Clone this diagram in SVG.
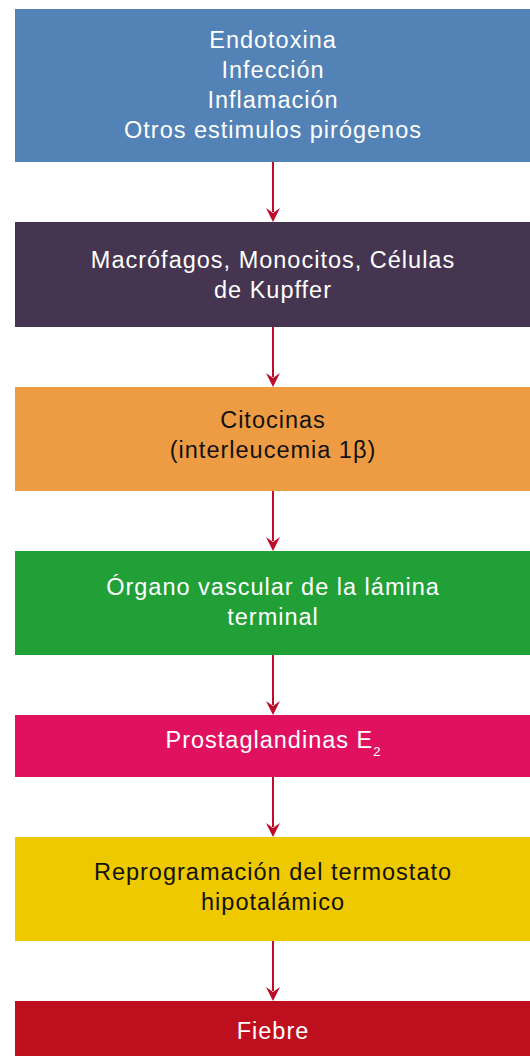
<svg xmlns="http://www.w3.org/2000/svg" width="530" height="1056" viewBox="0 0 530 1056">
<style>
text{font-family:"Liberation Sans",Arial,Helvetica,sans-serif;font-size:23.5px;letter-spacing:1px;text-anchor:middle}
.w{fill:#ffffff}
.k{fill:#111111}
.c{stroke:#be0d2b;stroke-width:2;fill:none}
.h{fill:#be0d2b}
</style>
<defs>
<path id="ah" d="M-7,-14 L0,-9 L7,-14 L0,0 Z"/>
</defs>
<rect width="530" height="1056" fill="#ffffff"/>
<g id="connectors">
<line class="c" x1="273" y1="162" x2="273" y2="212"/><use href="#ah" class="h" x="273" y="222"/>
<line class="c" x1="273" y1="327" x2="273" y2="377"/><use href="#ah" class="h" x="273" y="387"/>
<line class="c" x1="273" y1="491" x2="273" y2="541"/><use href="#ah" class="h" x="273" y="551"/>
<line class="c" x1="273" y1="655" x2="273" y2="705"/><use href="#ah" class="h" x="273" y="715"/>
<line class="c" x1="273" y1="777" x2="273" y2="827"/><use href="#ah" class="h" x="273" y="837"/>
<line class="c" x1="273" y1="941" x2="273" y2="991"/><use href="#ah" class="h" x="273" y="1001"/>
</g>
<g id="n1">
<rect x="15" y="9" width="515" height="153" fill="#5282b6"/>
<text class="w" x="273" y="48">Endotoxina</text>
<text class="w" x="273" y="78">Infección</text>
<text class="w" x="273" y="108">Inflamación</text>
<text class="w" x="273" y="138">Otros estimulos pirógenos</text>
</g>
<g id="n2">
<rect x="15" y="222" width="515" height="105" fill="#453551"/>
<text class="w" x="273" y="268">Macrófagos, Monocitos, Células</text>
<text class="w" x="273" y="298">de Kupffer</text>
</g>
<g id="n3">
<rect x="15" y="387" width="515" height="104" fill="#ed9c44"/>
<text class="k" x="273" y="428">Citocinas</text>
<text class="k" x="273" y="458">(interleucemia 1β)</text>
</g>
<g id="n4">
<rect x="15" y="551" width="515" height="104" fill="#21a038"/>
<text class="w" x="273" y="595">Órgano vascular de la lámina</text>
<text class="w" x="273" y="625">terminal</text>
</g>
<g id="n5">
<rect x="15" y="715" width="515" height="62" fill="#e0125f"/>
<text class="w" x="273" y="748">Prostaglandinas E<tspan font-size="13" dy="8" letter-spacing="0">2</tspan></text>
</g>
<g id="n6">
<rect x="15" y="837" width="515" height="104" fill="#eec900"/>
<text class="k" x="273" y="880">Reprogramación del termostato</text>
<text class="k" x="273" y="910">hipotalámico</text>
</g>
<g id="n7">
<rect x="15" y="1001" width="515" height="55" fill="#be0f1f"/>
<text class="w" x="273" y="1039">Fiebre</text>
</g>
</svg>
